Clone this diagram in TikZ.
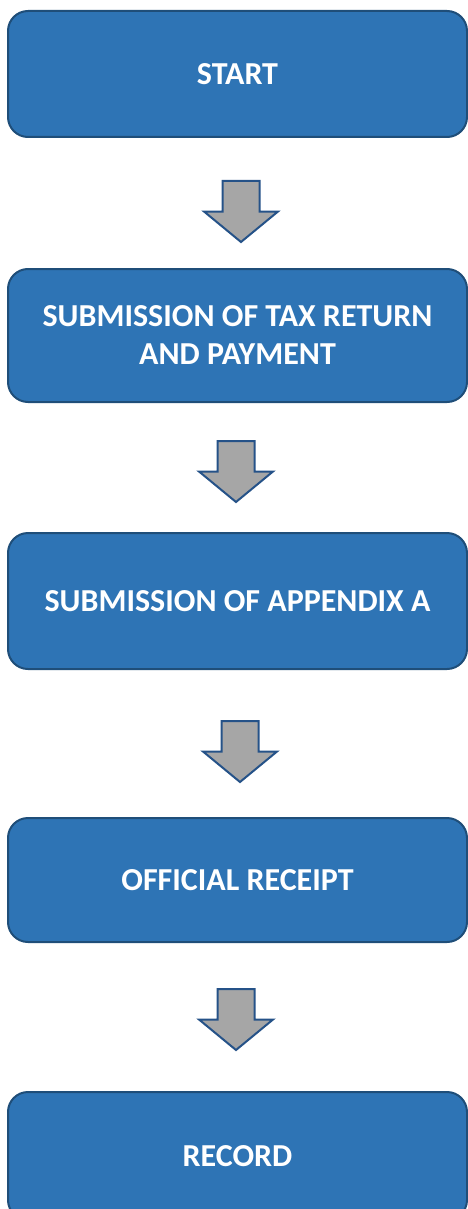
\documentclass[tikz,border=0pt]{standalone}
\usepackage{fontspec}
\setmainfont{Carlito}
\usepackage{tikz}
\definecolor{boxblue}{RGB}{46,116,181}
\definecolor{boxedge}{RGB}{31,78,121}
\definecolor{arrowgray}{RGB}{166,166,166}
\definecolor{arrowedge}{RGB}{37,82,136}
\tikzstyle{stepbox}=[rectangle,rounded corners=20pt,fill=boxblue,draw=boxedge,line width=2pt,minimum width=459pt,text=white,font=\fontsize{32}{38}\selectfont\bfseries,align=center]
\tikzstyle{blockarrow}=[fill=arrowgray,draw=arrowedge,line width=2pt,line join=miter]
\tikzstyle{none}=[inner sep=0pt]
\pgfdeclarelayer{edgelayer}
\pgfdeclarelayer{nodelayer}
\pgfsetlayers{edgelayer,nodelayer,main}
\begin{document}
\begin{tikzpicture}[x=1pt,y=-1pt]
	\useasboundingbox (0,0) rectangle (468,1209);
	\begin{pgfonlayer}{nodelayer}
		\node [style=stepbox, minimum height=126pt] (start) at (237.5, 74) {START};
		\node [style=stepbox, minimum height=133pt] (submit) at (237.5, 335.5) {SUBMISSION OF TAX RETURN\\AND PAYMENT};
		\node [style=stepbox, minimum height=136pt] (appendix) at (237.5, 601) {SUBMISSION OF APPENDIX A};
		\node [style=stepbox, minimum height=124pt] (receipt) at (237.5, 880) {OFFICIAL RECEIPT};
		\node [style=stepbox, minimum height=128pt] (record) at (237.5, 1156) {RECORD};

		% top middle of each arrow shaft
		\coordinate (a1) at (241, 181);
		\coordinate (a2) at (236, 441);
		\coordinate (a3) at (240, 721);
		\coordinate (a4) at (236, 989);
	\end{pgfonlayer}
	\begin{pgfonlayer}{edgelayer}
		\draw [style=blockarrow] (a1) ++(-18.5,0) -- ++(37,0) -- ++(0,30.5) -- ++(18.5,0) -- ++(-37,30.5) -- ++(-37,-30.5) -- ++(18.5,0) -- cycle;
		\draw [style=blockarrow] (a2) ++(-18.5,0) -- ++(37,0) -- ++(0,30.5) -- ++(18.5,0) -- ++(-37,30.5) -- ++(-37,-30.5) -- ++(18.5,0) -- cycle;
		\draw [style=blockarrow] (a3) ++(-18.5,0) -- ++(37,0) -- ++(0,30.5) -- ++(18.5,0) -- ++(-37,30.5) -- ++(-37,-30.5) -- ++(18.5,0) -- cycle;
		\draw [style=blockarrow] (a4) ++(-18.5,0) -- ++(37,0) -- ++(0,30.5) -- ++(18.5,0) -- ++(-37,30.5) -- ++(-37,-30.5) -- ++(18.5,0) -- cycle;
	\end{pgfonlayer}
\end{tikzpicture}
\end{document}
